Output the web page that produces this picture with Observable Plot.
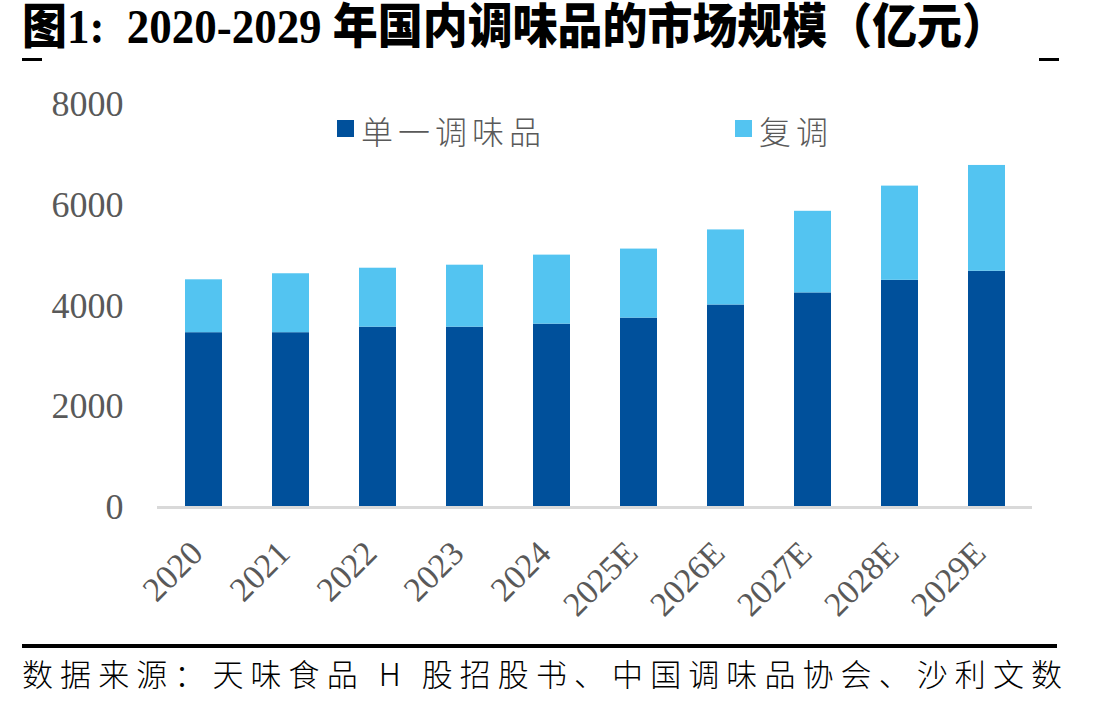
<!DOCTYPE html>
<html>
<head>
<meta charset="utf-8">
<script src="https://cdn.jsdelivr.net/npm/d3@7"></script>
<script src="https://cdn.jsdelivr.net/npm/@observablehq/plot@0.6"></script>
<style>
  html, body { margin: 0; padding: 0; background: #fff; }
  body { width: 1109px; height: 703px; position: relative; overflow: hidden; }
  #title {
    position: absolute; left: 22px; top: 3px; white-space: pre; line-height: 1;
    font-family: "Liberation Serif", "Noto Sans CJK SC", serif;
    font-weight: 900; font-size: 48px; color: #000; transform-origin: 0 0;
  }
  .tick-mark { position: absolute; top: 58px; width: 20px; height: 3px; background: #000; }
  #chart { position: absolute; left: 0; top: 80px; }
  #legend { position: absolute; top: 108px; left: 0; height: 44px; }
  .sw { position: absolute; top: 12px; width: 17px; height: 17px; }
  .lt {
    position: absolute; top: 0; white-space: nowrap; font-size: 32px; line-height: 44px;
    font-family: "Noto Sans CJK SC", sans-serif; font-weight: 300; color: #595959; letter-spacing: 5px;
  }
  #rule { position: absolute; left: 22px; top: 644px; width: 1035px; height: 4px; background: #000; }
  #source {
    position: absolute; left: 22px; top: 650px; white-space: nowrap;
    font-family: "Noto Sans CJK SC", sans-serif; font-weight: 300; font-size: 31px; color: #000;
  }
</style>
</head>
<body>
<div id="title"></div>
<div class="tick-mark" style="left:22px"></div>
<div class="tick-mark" style="left:1039px"></div>
<div id="chart"></div>
<div id="legend"></div>
<div id="rule"></div>
<div id="source"></div>
<script>
// Domestic seasoning market size, 100 million yuan
const years = ["2020", "2021", "2022", "2023", "2024", "2025E", "2026E", "2027E", "2028E", "2029E"];
const singleSeasoning = [3470, 3470, 3580, 3580, 3640, 3760, 4020, 4260, 4510, 4690];
const compoundSeasoning = [1050, 1170, 1170, 1230, 1370, 1370, 1490, 1620, 1870, 2100];
const seriesNames = ["单一调味品", "复调"];
const seriesColors = ["#00509b", "#53c4f1"];
const yTicks = [0, 2000, 4000, 6000, 8000];

const titleText = "图1:  2020-2029 年国内调味品的市场规模（亿元）";
const sourceText = "数据来源：天味食品 H 股招股书、中国调味品协会、沙利文数";

// Long-format rows, single seasoning first so it stacks at the bottom
const rows = years.flatMap((year, i) => [
  {year, series: seriesNames[0], value: singleSeasoning[i]},
  {year, series: seriesNames[1], value: compoundSeasoning[i]}
]);

const chart = Plot.plot({
  width: 1109,
  height: 560,
  marginTop: 24,
  marginBottom: 133,
  marginLeft: 157,
  marginRight: 77,
  style: {fontFamily: '"Liberation Serif", serif', background: "transparent", overflow: "visible"},
  x: {domain: years, paddingInner: 0.577, paddingOuter: 0.2885},
  y: {domain: [0, 8000]},
  color: {domain: seriesNames, range: seriesColors},
  marks: [
    Plot.barY(rows, {x: "year", y: "value", fill: "series"}),
    Plot.ruleY([0], {stroke: "#d9d9d9", strokeWidth: 3}),
    Plot.axisY({ticks: yTicks, tickFormat: d => String(d), tickSize: 0, tickPadding: 34,
      fontSize: 36, fill: "#595959", label: null}),
    Plot.axisX({tickSize: 0, tickPadding: 22, tickRotate: -45, fontSize: 34, dx: -7, dy: 18,
      fill: "#595959", label: null})
  ]
});
document.getElementById("chart").appendChild(chart);

// Legend swatches
const legend = document.getElementById("legend");
const legendLeft = [337, 735];
seriesNames.forEach((name, i) => {
  const sw = document.createElement("div");
  sw.className = "sw";
  sw.style.left = legendLeft[i] + "px";
  sw.style.background = seriesColors[i];
  legend.appendChild(sw);
  const t = document.createElement("div");
  t.className = "lt";
  t.style.left = (legendLeft[i] + 24) + "px";
  t.textContent = name;
  legend.appendChild(t);
});

// Title, condensed to span the page width
const title = document.getElementById("title");
title.textContent = titleText;
const tw = title.getBoundingClientRect().width;
title.style.transform = `scaleX(${985 / tw})`;

// Source line, spaced out to the rule's width
const source = document.getElementById("source");
source.textContent = sourceText;
const chars = sourceText.length;
const sw0 = source.getBoundingClientRect().width;
source.style.letterSpacing = ((1040 - sw0) / (chars - 1)) + "px";
</script>
</body>
</html>
